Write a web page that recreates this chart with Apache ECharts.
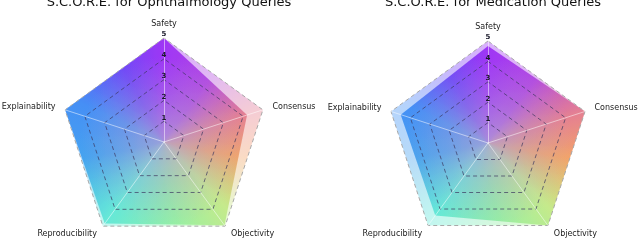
<!DOCTYPE html>
<html><head><meta charset="utf-8">
<script src="https://cdn.jsdelivr.net/npm/echarts@6/dist/echarts.min.js"></script>
<style>html,body{margin:0;padding:0;background:#fff}#c{width:640px;height:244px}</style>
</head><body><div id="c"></div>
<script>
// ---- data (clockwise from top, as in the figure) ----
const axisNames = ['Safety', 'Consensus', 'Objectivity', 'Reproducibility', 'Explainability'];
const ophthalmologyScores = [5.0, 4.2, 4.95, 4.85, 5.0];
const medicationScores = [4.75, 5.0, 5.0, 4.4, 4.5];
const maxScores = [5, 5, 5, 5, 5];
const ringTicks = ['1', '2', '3', '4', '5'];
const titles = ['S.C.O.R.E. for Ophthalmology Queries', 'S.C.O.R.E. for Medication Queries'];

// ECharts places indicators counter-clockwise; reorder so figure reads clockwise
const order = [0, 4, 3, 2, 1];
const reorder = a => order.map(i => a[i]);

const W = 640, H = 244;
const centers = [[164, 142], [488, 143]];
const radii = [104, 102];

function gradientCanvas(cx, cy) {
  const cv = document.createElement('canvas');
  cv.width = W; cv.height = H;
  const ctx = cv.getContext('2d');
  const g = ctx.createConicGradient(-Math.PI / 2, cx, cy);
  g.addColorStop(0.00, '#9a2cf6');
  g.addColorStop(0.10, '#b040e0');
  g.addColorStop(0.20, '#e47a8c');
  g.addColorStop(0.28, '#f4a060');
  g.addColorStop(0.38, '#c2ea86');
  g.addColorStop(0.48, '#90f0a0');
  g.addColorStop(0.60, '#5ee8d6');
  g.addColorStop(0.72, '#3a9ef0');
  g.addColorStop(0.82, '#3c8af6');
  g.addColorStop(0.92, '#6a40f8');
  g.addColorStop(1.00, '#9a2cf6');
  ctx.fillStyle = g;
  ctx.fillRect(0, 0, W, H);
  const r = ctx.createRadialGradient(cx, cy, 0, cx, cy, 85);
  r.addColorStop(0, 'rgba(172,155,210,0.8)');
  r.addColorStop(0.5, 'rgba(172,155,210,0.35)');
  r.addColorStop(1, 'rgba(172,155,210,0)');
  ctx.fillStyle = r;
  ctx.fillRect(0, 0, W, H);
  return cv;
}

const chart = echarts.init(document.getElementById('c'), null, { renderer: 'canvas' });
const radar = [], series = [], title = [];
[0, 1].forEach(k => {
  const names = reorder(axisNames);
  radar.push({
    center: centers[k], radius: radii[k], startAngle: 90, splitNumber: 5, z: 5,
    shape: 'polygon',
    indicator: names.map((n, i) => {
      const ind = { name: n, min: 0, max: 5 };
      if (i === 0) ind.axisLabel = { show: true };
      return ind;
    }),
    axisName: { color: '#222', fontSize: 8, fontFamily: 'DejaVu Sans' },
    nameGap: 10,
    axisLine: { lineStyle: { color: 'rgba(255,255,255,0.5)', width: 1 } },
    axisLabel: {
      show: false, showMinLabel: false, margin: 0, fontSize: 7, color: '#1a1a2a',
      fontWeight: 'bold', fontFamily: 'DejaVu Sans', align: 'center', verticalAlign: 'bottom',
      formatter: v => (v >= 1 ? ringTicks[v - 1] : '')
    },
    splitLine: { lineStyle: { type: [4, 3], width: 1,
      color: ['#000', 'rgba(60,55,95,0.7)', 'rgba(60,55,95,0.7)', 'rgba(60,55,95,0.7)', 'rgba(60,55,95,0.7)', '#a8a8a8'] } },
    splitArea: { show: false }
  });
  const pat = { image: gradientCanvas(centers[k][0], centers[k][1]), repeat: 'no-repeat' };
  const scores = k === 0 ? ophthalmologyScores : medicationScores;
  series.push({
    type: 'radar', radarIndex: k, symbol: 'none', animation: false, silent: true,
    data: [
      { value: reorder(maxScores), lineStyle: { width: 0, opacity: 0 }, areaStyle: { color: pat, opacity: 0.38 } },
      { value: reorder(scores), lineStyle: { width: 0, opacity: 0 }, areaStyle: { color: pat, opacity: 0.92 } }
    ]
  });
  title.push({
    text: titles[k], left: centers[k][0], top: -9, textAlign: 'center',
    textStyle: { fontSize: 13, fontWeight: 'normal', color: '#111', fontFamily: 'DejaVu Sans' }
  });
});

chart.setOption({ animation: false, title, radar, series });
</script></body></html>
